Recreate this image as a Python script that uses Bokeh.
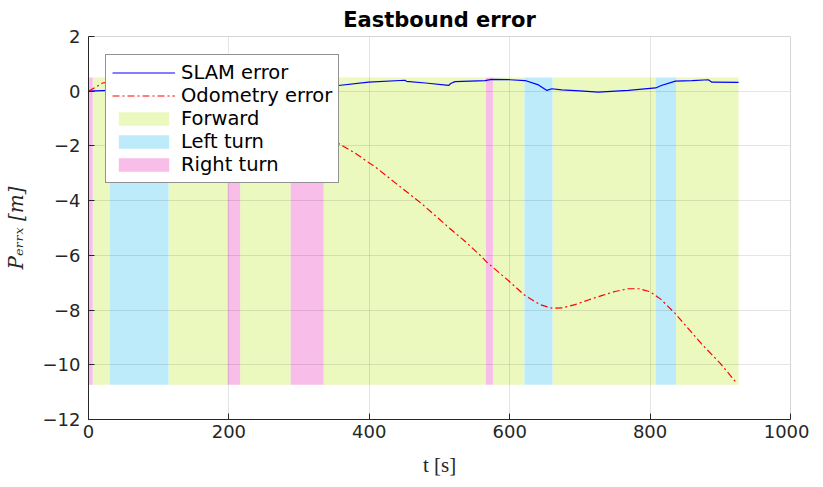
from bokeh.plotting import figure
from bokeh.models import Legend, LegendItem, ColumnDataSource, FixedTicker, Range1d
from bokeh.embed import file_html
from bokeh.resources import INLINE

# ---- data ----
t_slam = [0, 20, 100, 200, 300, 353, 399, 451, 453, 480, 513, 516, 522, 565, 574, 600, 622, 641, 653,
          660, 674, 700, 726, 769, 808, 816, 836, 860, 883, 888, 926]
slam_err = [0.0, 0.02, 0.1, 0.15, 0.18, 0.2, 0.33, 0.4, 0.36, 0.3, 0.21, 0.28, 0.35, 0.39, 0.43, 0.42,
            0.39, 0.23, 0.03, 0.09, 0.05, 0.01, -0.03, 0.03, 0.12, 0.21, 0.37, 0.39, 0.42, 0.33, 0.32]

t_odo = [0, 10, 20, 50, 100, 150, 200, 250, 300, 353, 380, 410, 437, 475, 513, 537, 560, 567, 598, 621,
         643, 660, 675, 693, 712, 731, 750, 769, 785, 800, 815, 836, 873, 900, 922]
odo_err = [0.0, 0.15, 0.3, 0.42, 0.4, 0.25, -0.05, -0.45, -1.05, -1.86, -2.27, -2.8, -3.35, -4.12, -4.98,
           -5.5, -6.05, -6.24, -6.92, -7.45, -7.8, -7.93, -7.92, -7.8, -7.63, -7.47, -7.32, -7.22,
           -7.22, -7.33, -7.6, -8.13, -9.23, -9.95, -10.63]

band_start = [0, 6, 30, 114, 198, 216, 288, 335, 566, 576, 621, 661, 808, 837]
band_end = [6, 30, 114, 198, 216, 288, 335, 566, 576, 621, 661, 808, 837, 926]
band_type = ["Right turn", "Forward", "Left turn", "Forward", "Right turn", "Forward", "Right turn",
             "Forward", "Right turn", "Forward", "Left turn", "Forward", "Left turn", "Forward"]
band_top = 0.5
band_bottom = -10.73

x_ticks = [0, 200, 400, 600, 800, 1000]
y_ticks = [-12, -10, -8, -6, -4, -2, 0, 2]

band_colors = {"Forward": "#EBF9BE", "Left turn": "#BDEBFA", "Right turn": "#F9BDEA"}

# ---- figure ----
p = figure(frame_width=702, frame_height=383, output_backend="svg", toolbar_location=None,
           x_range=Range1d(0, 1000), y_range=Range1d(-12, 2), title="Eastbound error",
           min_border_left=87, min_border_right=19, min_border_top=28, min_border_bottom=55)

p.title.align = "center"
p.title.text_font = "DejaVu Sans"
p.title.text_font_size = "21px"
p.title.text_font_style = "bold"
p.title.text_color = "#000000"

band_renderers = {}
for kind in ["Forward", "Left turn", "Right turn"]:
    idx = [i for i, k in enumerate(band_type) if k == kind]
    src = ColumnDataSource(dict(
        left=[band_start[i] for i in idx],
        right=[band_end[i] for i in idx],
        top=[band_top] * len(idx),
        bottom=[band_bottom] * len(idx),
    ))
    r = p.quad(left="left", right="right", top="top", bottom="bottom", source=src,
               fill_color=band_colors[kind], line_color=None, level="underlay")
    band_renderers[kind] = r

r_slam = p.line(t_slam, slam_err, line_color="#0000FF", line_width=1.2)
r_odo = p.line(t_odo, odo_err, line_color="#FF0000", line_width=1.2, line_dash="7 3 2 3")

for ax in (p.xaxis, p.yaxis):
    ax.major_label_text_font = "DejaVu Sans"
    ax.major_label_text_font_size = "18px"
    ax.major_label_text_color = "#262626"
    ax.axis_line_color = "#262626"
    ax.major_tick_line_color = "#262626"
    ax.major_tick_in = 6
    ax.major_tick_out = 0
    ax.minor_tick_line_color = None
    ax.major_label_standoff = 8

p.xaxis.major_label_standoff = 5
p.xaxis.ticker = FixedTicker(ticks=x_ticks)
p.yaxis.ticker = FixedTicker(ticks=y_ticks)

p.xaxis.axis_label = "t [s]"
p.xaxis.axis_label_text_font = "Liberation Serif"
p.xaxis.axis_label_text_font_size = "21px"
p.xaxis.axis_label_text_font_style = "normal"
p.xaxis.axis_label_text_color = "#262626"
p.xaxis.axis_label_standoff = 12

p.yaxis.axis_label = "P\u2091\u1d63\u1d63\u2093 [m]"
p.yaxis.axis_label_text_font = "DejaVu Serif"
p.yaxis.axis_label_text_font_size = "20px"
p.yaxis.axis_label_text_font_style = "italic"
p.yaxis.axis_label_text_color = "#262626"
p.yaxis.axis_label_standoff = 12

p.grid.grid_line_color = "#000000"
p.grid.grid_line_alpha = 0.1
p.grid.level = "glyph"
p.xgrid.ticker = FixedTicker(ticks=x_ticks)
p.ygrid.ticker = FixedTicker(ticks=y_ticks)
p.outline_line_color = "#d6d6d6"

legend = Legend(items=[
    LegendItem(label="SLAM error", renderers=[r_slam]),
    LegendItem(label="Odometry error", renderers=[r_odo]),
    LegendItem(label="Forward", renderers=[band_renderers["Forward"]]),
    LegendItem(label="Left turn", renderers=[band_renderers["Left turn"]]),
    LegendItem(label="Right turn", renderers=[band_renderers["Right turn"]]),
], location=(17, 236))
legend.label_text_font = "DejaVu Sans"
legend.label_text_font_size = "19.5px"
legend.label_text_color = "#000000"
legend.glyph_width = 63
legend.glyph_height = 17
legend.label_height = 17
legend.label_standoff = 6
legend.padding = 6
legend.spacing = 0
legend.margin = 0
legend.border_line_color = "#262626"
legend.border_line_width = 1
legend.background_fill_alpha = 1.0
p.add_layout(legend)

open("out.html", "w").write(file_html(p, INLINE))
